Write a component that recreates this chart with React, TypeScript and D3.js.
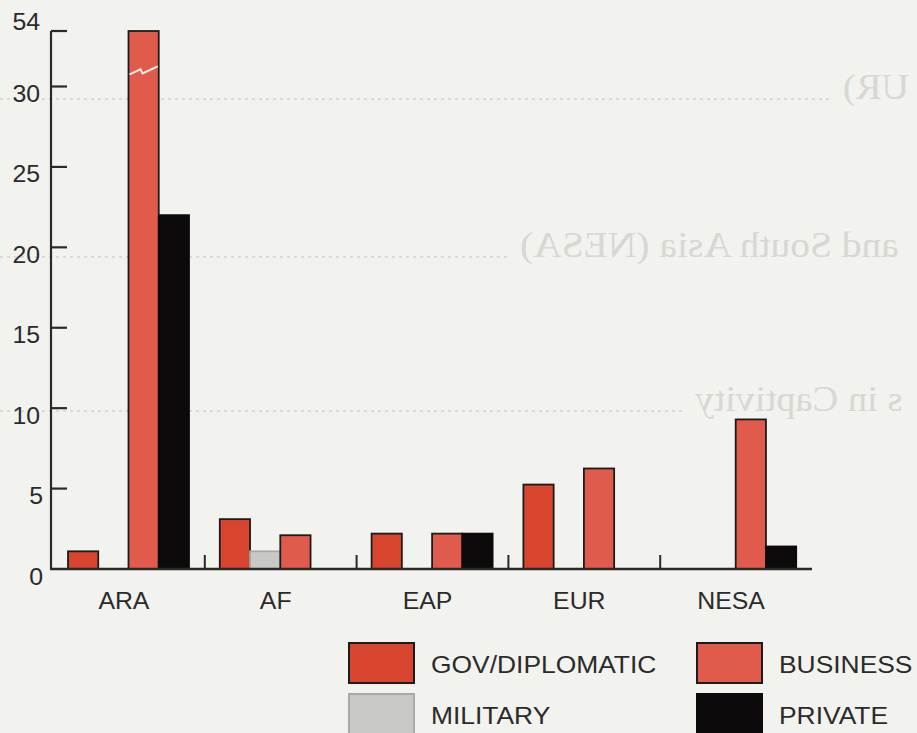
import React from "react";
import * as d3 from "d3";

const categories = ["ARA", "AF", "EAP", "EUR", "NESA"];
const seriesNames = ["GOV/DIPLOMATIC", "MILITARY", "BUSINESS", "PRIVATE"];
const govValues = [1.1, 3.1, 2.2, 5.25, 0];
const militaryValues = [0, 1.1, 0, 0, 0];
const businessValues = [54, 2.1, 2.2, 6.25, 9.3];
const privateValues = [22, 0, 2.2, 0, 1.4];
const yTickValues = [0, 5, 10, 15, 20, 25, 30, 54];
const breakTick = 54;

const seriesColors: Record<string, string> = {
  "GOV/DIPLOMATIC": "#d8452f",
  MILITARY: "#c8c8c6",
  BUSINESS: "#e05b4b",
  PRIVATE: "#0c0a0a",
};
const seriesStroke: Record<string, string> = {
  "GOV/DIPLOMATIC": "#1c1c1c",
  MILITARY: "#a9a9a7",
  BUSINESS: "#1c1c1c",
  PRIVATE: "#0c0a0a",
};
const legendOrder = ["GOV/DIPLOMATIC", "BUSINESS", "MILITARY", "PRIVATE"];

const W = 917;
const H = 733;
const FONT = "'Liberation Sans', Arial, Helvetica, sans-serif";
const SERIF = "'Liberation Serif', 'Times New Roman', serif";
const TEXT = "#2b2b2b";
const FAINT = "#d7d7d3";

export default function App() {
  const baseY = 569;
  const y = d3.scaleLinear().domain([0, 30]).range([baseY, 86.5]);
  const breakPos = 33.45; // scale position where the broken top tick sits
  const yPos = (v: number) => (v > 30 ? y(breakPos) : y(v));

  const x = d3.scaleBand<string>().domain(categories).range([53, 812]).padding(0);
  const inner = d3
    .scaleBand<string>()
    .domain(seriesNames)
    .range([15, 136])
    .padding(0);

  const valuesBySeries: Record<string, number[]> = {
    "GOV/DIPLOMATIC": govValues,
    MILITARY: militaryValues,
    BUSINESS: businessValues,
    PRIVATE: privateValues,
  };

  const bars: { key: string; s: string; x: number; y: number; w: number; h: number; v: number }[] = [];
  categories.forEach((c, i) => {
    seriesNames.forEach((s) => {
      const v = valuesBySeries[s][i];
      if (v > 0) {
        const bx = (x(c) as number) + (inner(s) as number);
        const top = yPos(v);
        bars.push({ key: c + s, s, x: bx, y: top, w: inner.bandwidth(), h: baseY - top, v });
      }
    });
  });

  const breakBar = bars.find((b) => b.v > 30);
  const zigY = y(31);

  const separators = categories.slice(1).map((c) => x(c) as number);

  const legendCols = [349, 697];
  const legendRows = [643, 694];

  const dotted = (yy: number, x2: number) => (
    <line x1={0} x2={x2} y1={yy} y2={yy} stroke="#dadad6" strokeWidth={2} strokeDasharray="3 4" />
  );

  return (
    <svg
      width={W}
      height={H}
      viewBox={`0 0 ${W} ${H}`}
      style={{ position: "absolute", left: 0, top: 0, background: "#f2f2ef" }}
    >
      <rect x={0} y={0} width={W} height={H} fill="#f2f2ef" />

      {/* show-through from the reverse page (mirrored, faint) */}
      <g fill={FAINT} fontFamily={SERIF} fontSize={35}>
        {dotted(99, 832)}
        <text transform={`translate(843,99) scale(-1.1,1)`} textAnchor="end">
          UR)
        </text>
        {dotted(257, 510)}
        <text transform={`translate(520,257) scale(-1.13,1)`} textAnchor="end">
          and South Asia (NESA)
        </text>
        {dotted(411, 684)}
        <text transform={`translate(695,411) scale(-1.1,1)`} textAnchor="end">
          s in Captivity
        </text>
      </g>

      {/* bars */}
      {bars.map((b) => (
        <rect
          key={b.key}
          x={b.x}
          y={b.y}
          width={b.w}
          height={b.h}
          fill={seriesColors[b.s]}
          stroke={seriesStroke[b.s]}
          strokeWidth={1.8}
        />
      ))}
      {breakBar && (
        <path
          d={`M${breakBar.x + 1},${zigY + 4} L${breakBar.x + 12},${zigY - 1} L${breakBar.x + 14},${zigY + 3} L${breakBar.x + breakBar.w - 1},${zigY - 4}`}
          fill="none"
          stroke="#fbf3ef"
          strokeWidth={2}
        />
      )}

      {/* y axis */}
      <line x1={51} x2={51} y1={yPos(breakTick)} y2={baseY} stroke="#2a2a2a" strokeWidth={2.2} />
      {yTickValues.map((t) => {
        const ty = yPos(t);
        const isBreak = t === breakTick;
        return (
          <g key={t}>
            {t !== 0 && <line x1={51} x2={67} y1={ty} y2={ty} stroke="#2a2a2a" strokeWidth={2.2} />}
            <text
              transform={`translate(${t < 10 ? 43 : 40},${isBreak ? ty - 1 : ty + 15.5}) scale(1.08,1)`}
              textAnchor="end"
              fontFamily={FONT}
              fontSize={23}
              fill={TEXT}
            >
              {t}
            </text>
          </g>
        );
      })}

      {/* x axis */}
      <line x1={50} x2={812} y1={baseY} y2={baseY} stroke="#2a2a2a" strokeWidth={2.4} />
      {separators.map((sx, i) => (
        <line key={i} x1={sx} x2={sx} y1={baseY} y2={baseY - 14} stroke="#2a2a2a" strokeWidth={2} />
      ))}
      {categories.map((c) => (
        <text
          key={c}
          transform={`translate(${(x(c) as number) + x.bandwidth() / 2 - 5},609) scale(1.08,1)`}
          textAnchor="middle"
          fontFamily={FONT}
          fontSize={23}
          fill={TEXT}
        >
          {c}
        </text>
      ))}

      {/* legend */}
      {legendOrder.map((s, i) => {
        const lx = legendCols[i % 2];
        const ly = legendRows[Math.floor(i / 2)];
        return (
          <g key={s}>
            <rect
              x={lx}
              y={ly}
              width={65}
              height={40}
              fill={seriesColors[s]}
              stroke={seriesStroke[s]}
              strokeWidth={2}
            />
            <text
              transform={`translate(${lx + 82},${ly + 30}) scale(1.1,1)`}
              fontFamily={FONT}
              fontSize={24}
              fill={TEXT}
            >
              {s}
            </text>
          </g>
        );
      })}
    </svg>
  );
}
